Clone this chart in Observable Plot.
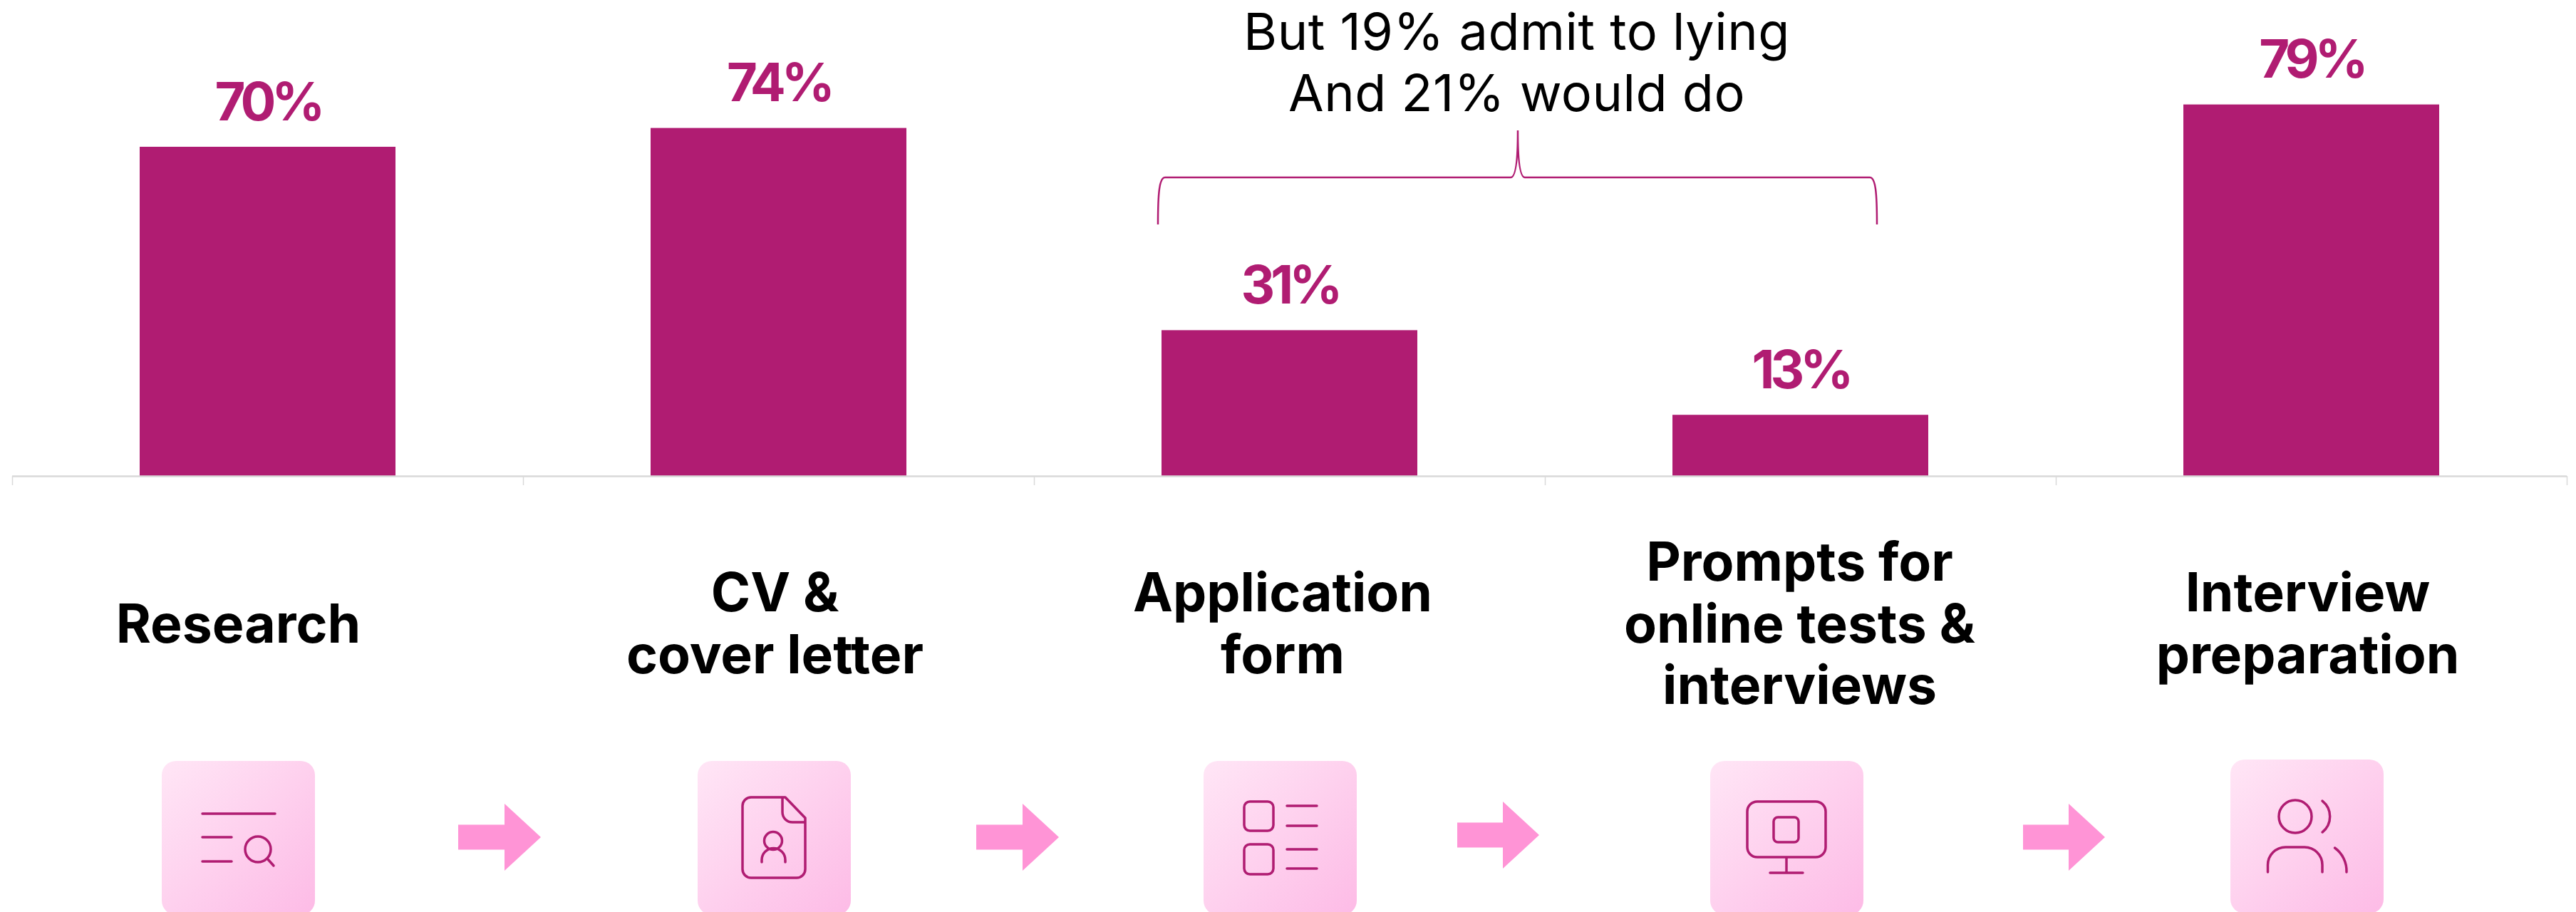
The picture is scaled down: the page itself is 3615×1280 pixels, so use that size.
<!DOCTYPE html>
<html>
<head>
<meta charset="utf-8">
<script src="https://cdn.jsdelivr.net/npm/d3@7"></script>
<script src="https://cdn.jsdelivr.net/npm/@observablehq/plot@0.6"></script>
<style>
  html, body { margin: 0; padding: 0; background: #fff; }
  svg { display: block; }
  .value-label text { letter-spacing: -6px; }
  .note-line text { letter-spacing: 0.5px; }
</style>
</head>
<body>
<div id="chart"></div>
<script>
// Share of candidates using AI at each stage of a job application
const categories = ["Research", "CV", "Application", "Prompts", "Interview"];
const shares = [70, 74, 31, 13, 79];
const labelLines = [
  ["Research"],
  ["CV &", "cover letter"],
  ["Application", "form"],
  ["Prompts for", "online tests &", "interviews"],
  ["Interview", "preparation"]
];
const noteLines = ["But 19% admit to lying", "And 21% would do"];

const plum = "#B01C72";
const arrowPink = "#FF94D6";
const axisGrey = "#D9D9D9";
const stageWidth = 717;
const fontFamily = "Inter, 'Noto Sans', sans-serif";

const rows = categories.map((c, i) => ({category: c, share: shares[i]}));

// The y scale puts 0% at pixel row 668 with 6.6 pixels per percentage point;
// the rows below the axis and above the bars are addressed through the same scale.
const baselineRow = 668;
const pixelsPerPoint = 6.6;
const yAtRow = row => (baselineRow - row) / pixelsPerPoint;

// Horizontal shift of each caption from its bar centre
const labelShift = [-41.5, -5.5, -10, -1.5, -5.5];
const captionCentreRow = 877;
const captionLeading = 86.5;

// Left edge and top of each icon tile
const tileLeft = [227, 979, 1689, 2400, 3130];
const tileTop = [1068, 1068, 1068, 1068, 1066];

// Captions, one text mark per line
const captionMarks = labelLines.flatMap((lines, i) =>
  lines.map((line, j) =>
    Plot.text([line], {
      x: () => categories[i],
      y: () => yAtRow(captionCentreRow + (j - (lines.length - 1) / 2) * captionLeading),
      text: d => d,
      dx: labelShift[i],
      className: "caption-line",
      fontFamily, fontSize: 75, fontWeight: 700, fill: "#000",
      lineAnchor: "middle"
    })
  )
);

// Two-line remark above the bracket
const noteMarks = noteLines.map((line, i) =>
  Plot.text([line], {
    x: () => categories[2],
    y: () => yAtRow([46, 132][i]),
    text: d => d,
    dx: 318.5,
    className: "note-line",
    fontFamily, fontSize: 72, fontWeight: 400, fill: "#000",
    lineAnchor: "middle"
  })
);

const ns = "http://www.w3.org/2000/svg";
function el(parent, name, attrs) {
  const node = document.createElementNS(ns, name);
  for (const k in attrs) node.setAttribute(k, attrs[k]);
  parent.appendChild(node);
  return node;
}

// Line icons, each drawn from its tile's top-left corner
const iconPaths = [
  "M57 74H159M57 107H98M57 141H98M148 137L157 147M153 124a18 18 0 1 1 -36 0a18 18 0 1 1 36 0",
  "M75 51H123L151 80V152a12 12 0 0 1 -12 12H75a12 12 0 0 1 -12 -12V63a12 12 0 0 1 12 -12ZM119 51V72a14 14 0 0 0 14 14H151M118.5 112a12.5 12.5 0 1 1 -25 0a12.5 12.5 0 1 1 25 0M90 142V139a16 16 0 0 1 33 0V142",
  "M65 57H90a8 8 0 0 1 8 8V90a8 8 0 0 1 -8 8H65a8 8 0 0 1 -8 -8V65a8 8 0 0 1 8 -8ZM65 117H90a8 8 0 0 1 8 8V151a8 8 0 0 1 -8 8H65a8 8 0 0 1 -8 -8V125a8 8 0 0 1 8 -8ZM117 63H159M117 91H159M117 124H159M117 151H159",
  "M66 57H148a14 14 0 0 1 14 14V121a14 14 0 0 1 -14 14H66a14 14 0 0 1 -14 -14V71a14 14 0 0 1 14 -14ZM95 79H118a6 6 0 0 1 6 6V108a6 6 0 0 1 -6 6H95a6 6 0 0 1 -6 -6V85a6 6 0 0 1 6 -6ZM107 135V157M84 157H130",
  "M114 80a23 23 0 1 1 -46 0a23 23 0 1 1 46 0M129 58a28 28 0 0 1 0 44M52.5 158V148a25 25 0 0 1 25 -25H104a25 25 0 0 1 25 25V158M146.5 124a40 40 0 0 1 16.5 34"
];

// Process arrows as polygons: shaft start, head start, tip, and vertical centre
const arrowShapes = [
  [643, 708, 759, 1175],
  [1370, 1435, 1486, 1175],
  [2045, 2109, 2160, 1172],
  [2839, 2903, 2954, 1175]
];

function decorations() {
  const g = document.createElementNS(ns, "g");
  const defs = el(g, "defs", {});
  const grad = el(defs, "linearGradient", {id: "tileFill", x1: "0", y1: "0", x2: "1", y2: "1"});
  el(grad, "stop", {offset: "0", "stop-color": "#FFE6F6"});
  el(grad, "stop", {offset: "1", "stop-color": "#FDBBE6"});

  // Curly bracket over the two middle stages
  el(g, "path", {
    d: "M1625 315C1625 270 1627 249 1635 249H2120C2127 249 2130 225 2130 183C2130 225 2133 249 2140 249H2624C2632 249 2634 270 2634 315",
    fill: "none", stroke: plum, "stroke-width": 2.5
  });

  tileLeft.forEach((left, i) => {
    const tile = el(g, "g", {transform: `translate(${left},${tileTop[i]})`});
    el(tile, "rect", {width: 215, height: 216, rx: 20, ry: 20, fill: "url(#tileFill)"});
    el(tile, "path", {d: iconPaths[i], fill: "none", stroke: plum, "stroke-width": 3.5, "stroke-linecap": "round", "stroke-linejoin": "round"});
  });

  arrowShapes.forEach(([a, b, c, m]) => {
    el(g, "polygon", {
      points: `${a},${m - 17.5} ${b},${m - 17.5} ${b},${m - 47} ${c},${m} ${b},${m + 47} ${b},${m + 17.5} ${a},${m + 17.5}`,
      fill: arrowPink
    });
  });
  return g;
}

const chart = Plot.plot({
  width: 3615,
  height: 1280,
  marginLeft: 17,
  marginRight: 13,
  marginTop: 8,
  marginBottom: 612,
  style: {background: "#fff", fontFamily},
  x: {type: "band", domain: categories, paddingInner: 0.5, paddingOuter: 0.25, axis: null},
  y: {domain: [0, 100], axis: null},
  marks: [
    Plot.barY(rows, {x: "category", y: "share", fill: plum}),
    Plot.ruleY([0], {stroke: axisGrey, strokeWidth: 2.5}),
    Plot.ruleX(categories, {x: d => d, y1: 0, y2: -1.97, dx: -stageWidth / 2, stroke: axisGrey, strokeWidth: 1.5}),
    Plot.ruleX(categories.slice(-1), {x: d => d, y1: 0, y2: -1.97, dx: stageWidth / 2, stroke: axisGrey, strokeWidth: 1.5}),
    Plot.text(rows, {
      x: "category", y: "share", text: d => `${d.share}%`,
      dy: -38, lineAnchor: "bottom",
      className: "value-label",
      fontFamily, fontSize: 74, fontWeight: 700, fill: plum
    }),
    ...noteMarks,
    decorations,
    ...captionMarks
  ]
});

document.getElementById("chart").appendChild(chart);
</script>
</body>
</html>
